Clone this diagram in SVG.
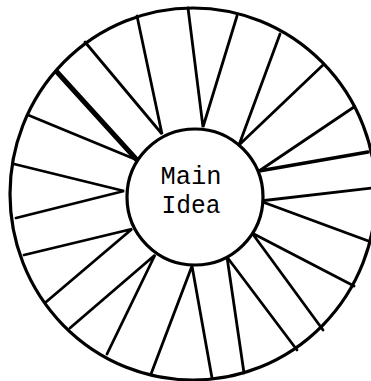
<svg xmlns="http://www.w3.org/2000/svg" width="371" height="381" viewBox="0 0 371 381">
<style>
.ring{fill:none;stroke:#000;stroke-width:3.2}
.spoke{stroke:#000;stroke-width:2.8;stroke-linecap:round;fill:none}
.lbl{font-family:"Liberation Mono","DejaVu Sans Mono",monospace;font-size:26px;fill:#000;text-anchor:middle}
</style>
<rect width="371" height="381" fill="#fff"/>
<g id="outer-ring">
<ellipse class="ring" cx="193" cy="194" rx="183" ry="186"/>
</g>
<g id="connectors">
<path class="spoke" d="M188 8 L203 127 L237 16"/>
<path class="spoke" d="M280 34 L239 145 L323 65"/>
<path class="spoke" d="M354 107 L259 171"/>
<path class="spoke" d="M368 152 L259 171" style="stroke-width:3.6"/>
<path class="spoke" d="M372 188 L260 201 L371 242"/>
<path class="spoke" d="M354 286 L252 233 L323 330"/>
<path class="spoke" d="M297 350 L227 257 L244 373"/>
<path class="spoke" d="M212 378 L192 266 L151 374"/>
<path class="spoke" d="M107 354 L155 255 L70 328"/>
<path class="spoke" d="M46 302 L132 229 L24 255"/>
<path class="spoke" d="M16 218 L124 191 L14 164"/>
<path class="spoke" d="M28 115 L137 160"/>
<path class="spoke" d="M57 72 L137 160" style="stroke-width:5"/>
<path class="spoke" d="M85 42 L162 134 L137 16"/>
</g>
<g id="main-idea">
<circle cx="195" cy="197" r="68" fill="#fff" stroke="#000" stroke-width="3.2"/>
<text class="lbl" x="191" y="184" textLength="61" lengthAdjust="spacingAndGlyphs">Main</text>
<text class="lbl" x="191" y="213" textLength="59" lengthAdjust="spacingAndGlyphs">Idea</text>
</g>
</svg>
